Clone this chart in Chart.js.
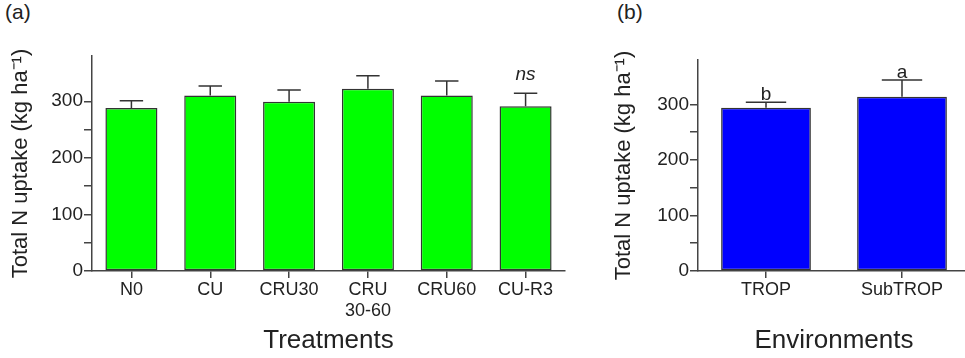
<!DOCTYPE html>
<html>
<head>
<meta charset="utf-8">
<script src="https://cdn.jsdelivr.net/npm/chart.js@4/dist/chart.umd.min.js"></script>
<style>
  html, body { margin: 0; padding: 0; background: #fff; overflow: hidden; }
  body { width: 965px; height: 358px; position: relative; font-family: "Liberation Sans", Arial, sans-serif; }
  .panel { position: absolute; top: 0; height: 358px; }
  .tag { position: absolute; top: 0; font-size: 21px; color: #222; }
</style>
</head>
<body>
<div class="tag" style="left:5px">(a)</div>
<div class="tag" style="left:617px">(b)</div>
<div class="panel" style="left:0; width:580px"><canvas id="chartA"></canvas></div>
<div class="panel" style="left:600px; width:375px"><canvas id="chartB"></canvas></div>
<script>
// panel (a) - treatments
var treatments = ["N0", "CU", "CRU30", ["CRU", "30-60"], "CRU60", "CU-R3"];
var uptakeA = [288, 310, 299, 322, 310, 291];
var errA = [13, 17, 21, 23, 26, 23];
var sigA = ["", "", "", "", "", "ns"];

// panel (b) - environments
var environments = ["TROP", "SubTROP"];
var uptakeB = [294, 314];
var errB = [10, 30];
var sigB = ["b", "a"];

var yTitle = "Total N uptake (kg ha\u207B\u00B9)";
var FONT = "'Liberation Sans', Arial, sans-serif";
var INK = "#222";
var AXIS = "#444";

// draws mean + SE whiskers and the significance letters above them
var errorBars = {
    id: "errorBars",
    afterDatasetsDraw: function(chart, args, opts) {
        var ctx = chart.ctx;
        var y = chart.scales.y;
        var bars = chart.getDatasetMeta(0).data;
        var values = chart.data.datasets[0].data;
        ctx.save();
        ctx.strokeStyle = "#333";
        ctx.lineWidth = 1.5;
        for (var i = 0; i < bars.length; i++) {
            var x = bars[i].x;
            var cap = bars[i].width * 0.45;
            var yTop = y.getPixelForValue(values[i]);
            var yErr = y.getPixelForValue(values[i] + opts.errors[i]);
            ctx.beginPath();
            ctx.moveTo(x, yTop);
            ctx.lineTo(x, yErr);
            ctx.moveTo(x - cap / 2, yErr);
            ctx.lineTo(x + cap / 2, yErr);
            ctx.stroke();
            if (opts.labels[i]) {
                ctx.fillStyle = INK;
                ctx.font = (opts.italic ? "italic " : "") + "19px " + FONT;
                ctx.textAlign = "center";
                ctx.textBaseline = "alphabetic";
                ctx.fillText(opts.labels[i], x, yErr - opts.gap);
            }
        }
        ctx.restore();
    }
};

function makeChart(id, labels, values, errors, sig, color, xTitle, o) {
    return new Chart(document.getElementById(id), {
        type: "bar",
        data: {
            labels: labels,
            datasets: [{
                data: values,
                backgroundColor: color,
                borderColor: "#333",
                borderWidth: 1.5,
                borderSkipped: false,
                barPercentage: 0.66,
                categoryPercentage: 1
            }]
        },
        plugins: [errorBars],
        options: {
            responsive: true,
            maintainAspectRatio: false,
            animation: false,
            layout: { padding: { left: 0, right: o.padRight, top: o.padTop, bottom: 0 } },
            plugins: {
                legend: { display: false },
                tooltip: { enabled: false },
                errorBars: { errors: errors, labels: sig, italic: o.italic, gap: o.gap }
            },
            scales: {
                x: {
                    offset: true,
                    grid: { display: true, drawOnChartArea: false, offset: false, tickLength: 7, color: AXIS, lineWidth: 1.5 },
                    border: { color: AXIS, width: 1.5 },
                    ticks: { color: INK, padding: 2, font: { family: FONT, size: 18, lineHeight: 1.15 } },
                    title: { display: true, text: xTitle, color: INK, padding: { top: 0, bottom: 2 }, font: { family: FONT, size: 26 } },
                    afterFit: function(scale) { scale.height = 87; }
                },
                y: {
                    min: 0,
                    max: 380,
                    grid: { display: true, drawOnChartArea: false, tickLength: 8, color: AXIS, lineWidth: 1.5 },
                    border: { color: AXIS, width: 1.5 },
                    ticks: {
                        stepSize: 50,
                        padding: 1,
                        color: INK,
                        font: { family: FONT, size: 19 },
                        callback: function(v) { return v % 100 === 0 ? v : ""; }
                    },
                    afterBuildTicks: function(scale) {
                        scale.ticks = scale.ticks.filter(function(t) { return t.value % 50 === 0; });
                    },
                    title: { display: true, text: yTitle, color: INK, padding: { top: o.titlePad, bottom: 0 }, font: { family: FONT, size: 22 } },
                    afterFit: function(scale) { scale.width = o.yWidth; }
                }
            }
        }
    });
}

makeChart("chartA", treatments, uptakeA, errA, sigA, "#00FF00", "Treatments",
    { padRight: 15, padTop: 56, yWidth: 92, titlePad: 8, italic: true, gap: 13 });
makeChart("chartB", environments, uptakeB, errB, sigB, "#0000FF", "Environments",
    { padRight: 5, padTop: 60, yWidth: 98, titlePad: 11, italic: false, gap: 2 });
</script>
</body>
</html>
